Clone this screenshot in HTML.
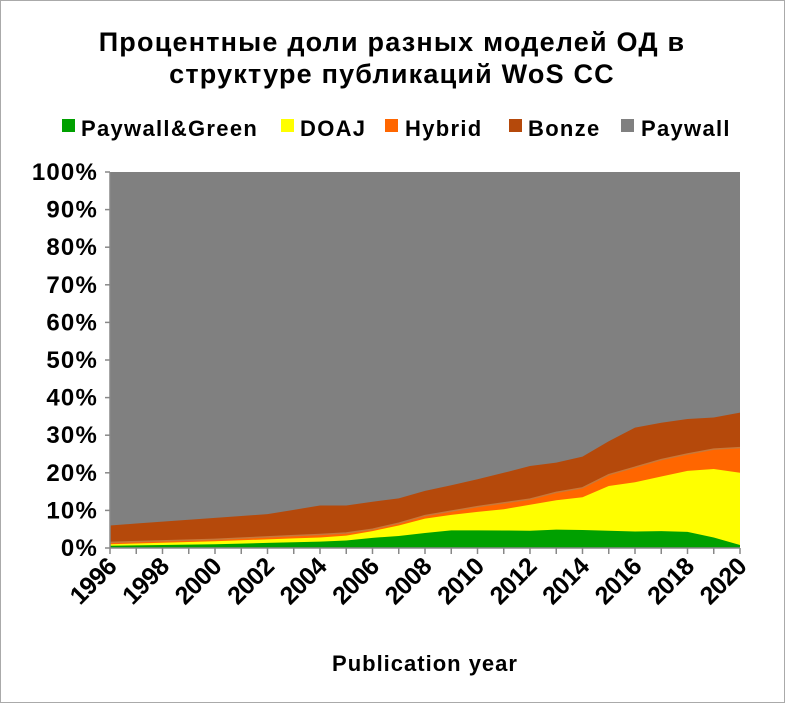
<!DOCTYPE html>
<html><head><meta charset="utf-8"><style>
body{margin:0;background:#fff;}
svg{display:block;font-family:"Liberation Sans",Arial,sans-serif;}
</style></head><body>
<svg id="s" width="785" height="703" xmlns="http://www.w3.org/2000/svg">
<rect x="0.5" y="0.5" width="784" height="702" fill="#fff" stroke="#aaa"/>
<text x="392" y="51" font-size="27" font-weight="bold" text-anchor="middle" letter-spacing="1.2">Процентные доли разных моделей ОД в</text>
<text x="392" y="83" font-size="27" font-weight="bold" text-anchor="middle" letter-spacing="1.2">структуре публикаций WoS CC</text>
<g font-size="22" font-weight="bold" letter-spacing="1.3">
<rect x="62" y="119" width="13" height="13" fill="#00a000"/><text x="81" y="136">Paywall&amp;Green</text>
<rect x="281" y="119" width="13" height="13" fill="#ffff00"/><text x="300" y="136">DOAJ</text>
<rect x="385" y="119" width="13" height="13" fill="#ff6600"/><text x="405" y="136">Hybrid</text>
<rect x="509" y="119" width="13" height="13" fill="#b5490b"/><text x="528" y="136">Bonze</text>
<rect x="621" y="119" width="13" height="13" fill="#808080"/><text x="641" y="136">Paywall</text>
</g>
<g id="plot"></g>
<g id="ax" font-weight="bold"></g>
<text x="425" y="671" font-size="22" font-weight="bold" text-anchor="middle" letter-spacing="1">Publication year</text>
</svg>
<script>
(function(){
const X0=110,X1=740,Y0=548,Y1=172;
const yrs=[];for(let y=1996;y<=2020;y++)yrs.push(y);
function interp(pts){const k=Object.keys(pts).map(Number).sort((a,b)=>a-b);return yrs.map(y=>{for(let i=0;i<k.length-1;i++){if(y>=k[i]&&y<=k[i+1]){let t=(y-k[i])/(k[i+1]-k[i]);return pts[k[i]]+(pts[k[i+1]]-pts[k[i]])*t;}}return pts[k[k.length-1]];});}
const green=interp({1996:0.6,2000:1,2004:1.7,2005:2,2006:2.7,2007:3.2,2008:4,2009:4.7,2010:4.7,2012:4.6,2013:4.9,2014:4.8,2015:4.6,2016:4.4,2017:4.5,2018:4.3,2019:2.8,2020:0.8});
const doaj=interp({1996:1,2000:1.8,2004:2.8,2005:3.3,2006:4.5,2007:6,2008:7.8,2009:8.8,2010:9.6,2011:10.3,2012:11.5,2013:12.7,2014:13.5,2015:16.5,2016:17.5,2017:19,2018:20.5,2019:21,2020:20});
const hyb=interp({1996:1.5,2000:2.3,2004:3.6,2005:4,2006:5,2007:6.6,2008:8.6,2009:9.8,2010:11,2011:12,2012:13,2013:14.8,2014:16,2015:19.5,2016:21.5,2017:23.5,2018:25,2019:26.3,2020:26.7});
const bon=interp({1996:6,1998:7,2000:8,2002:9,2004:11.3,2005:11.3,2006:12.3,2007:13.2,2008:15.2,2009:16.7,2010:18.3,2011:20,2012:21.8,2013:22.7,2014:24.3,2015:28.4,2016:32,2017:33.3,2018:34.3,2019:34.7,2020:36});
const full=yrs.map(()=>100),zero=yrs.map(()=>0);
const px=i=>X0+i*(X1-X0)/24,py=v=>Y0-v*(Y0-Y1)/100;
function band(lo,hi,c){let p=[];hi.forEach((v,i)=>p.push(px(i)+','+py(v)));for(let i=lo.length-1;i>=0;i--)p.push(px(i)+','+py(lo[i]));return '<polygon points="'+p.join(' ')+'" fill="'+c+'"/>';}
let h=band(zero,full,'#808080')+band(zero,bon,'#b5490b')+band(zero,hyb,'#ff6600')+band(zero,doaj,'#ffff00')+band(zero,green,'#00a000');
h+='<polyline points="'+hyb.map((v,i)=>px(i)+','+py(v)).join(' ')+'" fill="none" stroke="#c8783a" stroke-width="1.5"/>';
document.getElementById('plot').innerHTML=h;
let a='<line x1="'+X0+'" y1="'+Y1+'" x2="'+X0+'" y2="'+Y0+'" stroke="#888" stroke-width="1.5"/><line x1="'+X0+'" y1="'+Y0+'" x2="'+X1+'" y2="'+Y0+'" stroke="#888" stroke-width="1.5"/>';
for(let p=0;p<=100;p+=10){let y=py(p);a+='<line x1="'+(X0-5)+'" y1="'+y+'" x2="'+X0+'" y2="'+y+'" stroke="#888" stroke-width="1.5"/><text x="'+(X0-12)+'" y="'+(y+8)+'" text-anchor="end" font-size="24" letter-spacing="1.2">'+p+'%</text>';}
for(let i=0;i<=24;i++){let x=px(i);a+='<line x1="'+x+'" y1="'+Y0+'" x2="'+x+'" y2="'+(Y0+6)+'" stroke="#888" stroke-width="1.5"/>';if(i%2==0)a+='<text transform="translate('+(x+8)+','+(Y0+20)+') rotate(-45)" text-anchor="end" font-size="25" letter-spacing="-0.5">'+(1996+i)+'</text>';}
document.getElementById('ax').innerHTML=a;
})();
</script>
</body></html>
